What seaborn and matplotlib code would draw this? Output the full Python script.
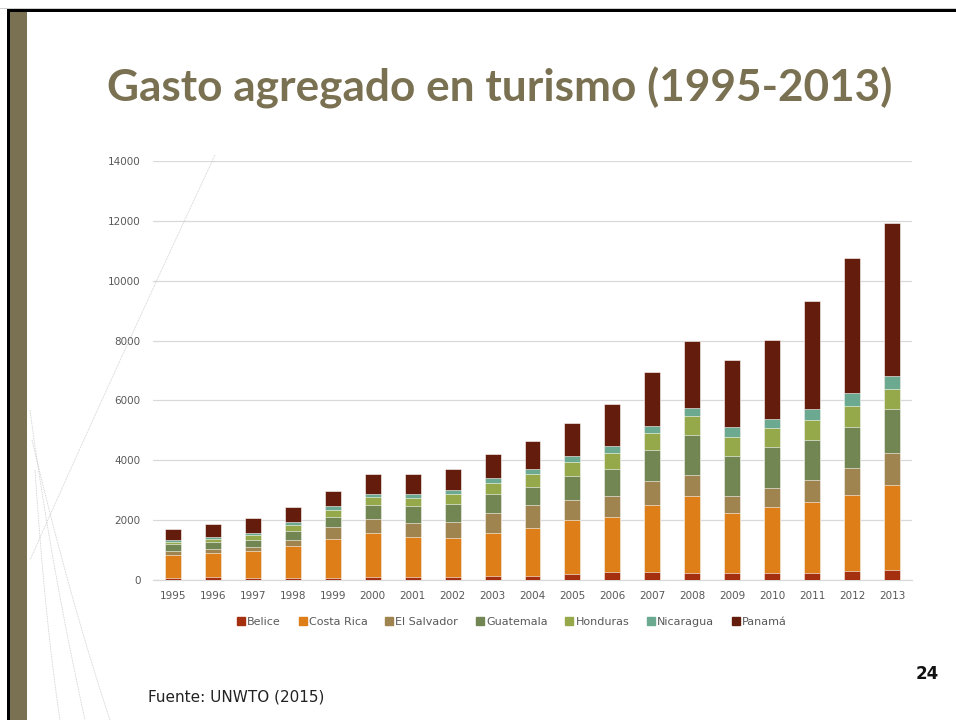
"""
Gasto agregado en turismo (1995-2013), barras apiladas por país.
"""
import numpy as np
import pandas as pd
import matplotlib
matplotlib.use("Agg")
import matplotlib.pyplot as plt
import matplotlib.patches as mpatches
from matplotlib.lines import Line2D
import seaborn as sns

years = [str(y) for y in range(1995, 2014)]
countries = ["Belice", "Costa Rica", "El Salvador", "Guatemala",
             "Honduras", "Nicaragua", "Panamá"]

belice = [70, 85, 80, 80, 80, 100, 100, 110, 145, 145,
          200, 255, 280, 245, 245, 245, 245, 290, 345]
costa_rica = [765, 805, 890, 1045, 1280, 1470, 1335, 1280, 1415, 1605,
              1815, 1850, 2215, 2550, 2000, 2185, 2360, 2540, 2820]
el_salvador = [145, 135, 135, 210, 400, 455, 460, 535, 670, 745,
               660, 690, 815, 715, 555, 645, 735, 900, 1070]
guatemala = [210, 245, 245, 310, 360, 490, 580, 625, 635, 625,
             790, 925, 1025, 1325, 1350, 1380, 1350, 1390, 1470]
honduras = [90, 110, 155, 180, 220, 255, 255, 310, 380, 425,
            465, 510, 570, 635, 625, 625, 645, 680, 690]
nicaragua = [55, 55, 80, 110, 125, 120, 135, 145, 155, 180,
             210, 235, 245, 290, 330, 300, 370, 435, 435]
panama = [370, 425, 480, 490, 510, 640, 670, 715, 810, 910,
          1095, 1415, 1805, 2215, 2260, 2630, 3630, 4515, 5100]

colors = ["#A5300F", "#DE7E18", "#A0844F", "#728653",
          "#96A94A", "#6BAA91", "#641C0C"]

OLIVE = "#7A7152"
GRAY = "#595959"

df = pd.DataFrame({"year": years, "Belice": belice, "Costa Rica": costa_rica,
                   "El Salvador": el_salvador, "Guatemala": guatemala,
                   "Honduras": honduras, "Nicaragua": nicaragua,
                   "Panamá": panama})
cum = df[countries].cumsum(axis=1)
cum["year"] = df["year"]

sns.set_theme(style="white")
plt.rcParams["font.family"] = ["DejaVu Sans"]

fig = plt.figure(figsize=(9.56, 7.2), dpi=100)
fig.patch.set_facecolor("white")

# marco de la diapositiva
fig.add_artist(mpatches.Rectangle((10 / 956, 0), 17 / 956, 1 - 12 / 720,
                                  transform=fig.transFigure, color=OLIVE, lw=0))
fig.add_artist(mpatches.Rectangle((7 / 956, 0), 3 / 956, 1 - 9 / 720,
                                  transform=fig.transFigure, color="black", lw=0))
fig.add_artist(mpatches.Rectangle((7 / 956, 1 - 12 / 720), 1, 3 / 720,
                                  transform=fig.transFigure, color="black", lw=0))
fig.add_artist(mpatches.Rectangle((0, 1 - 9 / 720), 1, 1.5 / 720,
                                  transform=fig.transFigure, color="#CFCFCF", lw=0))

# líneas decorativas tenues
t = np.linspace(0, 1, 100)
curves = [
    ((215, 155), (110, 380), (30, 560)),
    ((30, 410), (50, 560), (85, 720)),
    ((32, 440), (70, 600), (110, 720)),
    ((35, 470), (45, 620), (60, 720)),
]
for (ax0, ay0), (bx, by), (cx, cy) in curves:
    xs = (1 - t) ** 2 * ax0 + 2 * (1 - t) * t * bx + t ** 2 * cx
    ys = (1 - t) ** 2 * ay0 + 2 * (1 - t) * t * by + t ** 2 * cy
    fig.add_artist(Line2D(xs / 956, 1 - ys / 720, transform=fig.transFigure,
                          color="#BBBBBB", lw=0.6, ls=(0, (1, 1)), alpha=0.8))

fig.text(500 / 956, 1 - 88 / 720, "Gasto agregado en turismo (1995-2013)",
         ha="center", va="center", fontsize=31.8, fontweight="bold",
         color=OLIVE, family=["Lato", "DejaVu Sans"])

ax = fig.add_axes([153 / 956, 1 - 580 / 720, (912 - 153) / 956, (580 - 161) / 720])

# barras apiladas: se dibuja cada acumulado de mayor a menor
for name, col in reversed(list(zip(countries, colors))):
    sns.barplot(data=cum, x="year", y=name, order=years, color=col,
                width=0.4, saturation=1, edgecolor="white", linewidth=0.4,
                ax=ax, zorder=3)

ax.set_ylim(0, 14000)
ax.set_xlim(-0.5, 18.5)
ax.set_yticks(range(0, 14001, 2000))
ax.yaxis.grid(True, color="#D9D9D9", lw=0.9, zorder=0)
ax.set_axisbelow(True)
for s in ["top", "right", "left"]:
    ax.spines[s].set_visible(False)
ax.spines["bottom"].set_color("#D9D9D9")
ax.spines["bottom"].set_linewidth(0.9)
ax.set_xlabel("")
ax.set_ylabel("")
ax.tick_params(axis="both", length=0, labelsize=7.5, labelcolor=GRAY)
ax.tick_params(axis="x", pad=8)
ax.tick_params(axis="y", pad=9)

handles = [mpatches.Patch(color=c, label=n) for n, c in zip(countries, colors)]
fig.legend(handles=handles, loc="center", ncol=7,
           bbox_to_anchor=(512 / 956, 1 - 622 / 720), frameon=False,
           fontsize=8, labelcolor=GRAY, handlelength=0.7, handleheight=0.7,
           handletextpad=0.2, columnspacing=1.6)

fig.text(148 / 956, 1 - 697 / 720, "Fuente: UNWTO (2015)", ha="left",
         va="center", fontsize=11, color="#222222")
fig.text(927 / 956, 1 - 674 / 720, "24", ha="center", va="center",
         fontsize=12, fontweight="bold", color="#111111")

fig.savefig("out.png", dpi=100)
